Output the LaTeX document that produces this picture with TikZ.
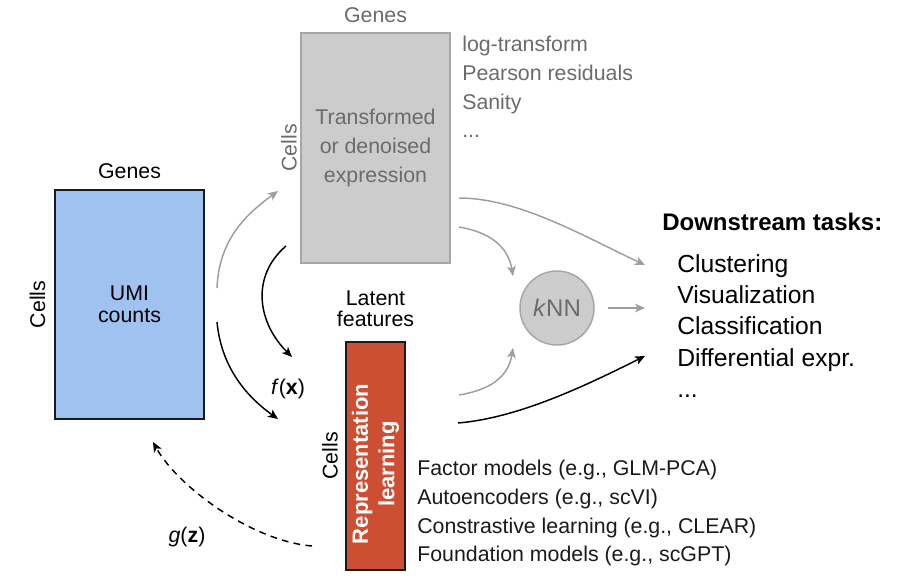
\documentclass[tikz,border=0pt]{standalone}
\usepackage{fontspec}
\setmainfont{Liberation Sans}
\usepackage{xcolor}
\usetikzlibrary{arrows.meta, positioning, calc}
\definecolor{scBlue}{HTML}{9FC2F0}
\definecolor{scRed}{HTML}{CC4E33}
\definecolor{scGray}{HTML}{CCCCCC}
\definecolor{scEdge}{HTML}{A6A6A6}
\definecolor{scText}{HTML}{6B6B6B}
\definecolor{scInk}{HTML}{1A1A1A}
\definecolor{scArrow}{HTML}{9E9E9E}

\begin{document}
\begin{tikzpicture}[x=0.75pt,y=-0.75pt,
  lbl/.style={inner sep=0pt, font=\fontsize{16}{21}\selectfont},
  matbox/.style={draw, line width=1.1pt, inner sep=0pt, outer sep=0pt, align=center},
  flow/.style={line width=1.1pt, -{Stealth[length=7.5pt,width=6.5pt,inset=2pt]}},
  faint/.style={flow, scArrow},
]
\useasboundingbox (0,0) rectangle (924,578);

% data matrices
\node[matbox, lbl, fill=scBlue, draw=scInk, minimum width=111.75pt, minimum height=171.75pt,
  font=\fontsize{16}{16.3}\selectfont] (umi) at (129.5,304.5) {UMI\\counts};
\node[lbl, above=8pt of umi] (umiGenes) {Genes};
\node[lbl, rotate=90, anchor=south] (umiCells) at ([xshift=-7pt]umi.west) {Cells};

\node[matbox, lbl, fill=scGray, draw=scEdge, text=scText, minimum width=111.75pt, minimum height=172.5pt,
  font=\fontsize{16}{21.4}\selectfont] (expr) at (375.5,148) {Transformed\\or denoised\\expression};
\node[lbl, text=scText, above=7.5pt of expr] (exprGenes) {Genes};
\node[lbl, text=scText, rotate=90, anchor=south] (exprCells) at ([xshift=-3pt]expr.west) {Cells};
\node[lbl, text=scText, align=left, anchor=north west, font=\fontsize{16}{21.5}\selectfont]
  (exprList) at ([shift={(12,3)}]expr.north east) {log-transform\\Pearson residuals\\Sanity\\...};

\node[matbox, fill=scRed, draw=scInk, minimum width=44.25pt, minimum height=171pt] (rep) at (375.5,456) {};
\node[rotate=90, text=white, inner sep=0pt, align=center, font=\bfseries\fontsize{16.5}{20}\selectfont]
  (repText) at ([shift={(0,8)}]rep.center) {Representation\\learning};
\node[lbl, align=center, font=\fontsize{16}{16}\selectfont, above=11pt of rep] (repTop) {Latent\\features};
\node[lbl, rotate=90, anchor=south] (repCells) at ([xshift=-6pt]rep.west) {Cells};
\node[lbl, text=scInk, align=left, anchor=north west, font=\fontsize{16}{21.5}\selectfont]
  (repList) at ([shift={(12,4)}]rep.east) {Factor models (e.g., GLM-PCA)\\Autoencoders (e.g., scVI)\\Constrastive learning (e.g., CLEAR)\\Foundation models (e.g., scGPT)};

\node[circle, draw=scEdge, fill=scGray, line width=1.1pt, minimum size=55.5pt, inner sep=0pt,
  text=scText, font=\fontsize{18}{20}\selectfont] (knn) at (557,308) {\textit{k}NN};

% downstream
\node[inner sep=0pt, anchor=west, font=\bfseries\fontsize{18}{20}\selectfont] (tasks) at (662,222) {Downstream tasks:};
\node[inner sep=0pt, anchor=north west, align=left, font=\fontsize{18.5}{23.5}\selectfont]
  (taskList) at (677,254) {Clustering\\Visualization\\Classification\\Differential expr.\\...};

% maps
\node[lbl] (fx) at (288,389) {\textit{f}(\textbf{x})};
\node[lbl] (gz) at (187,537) {\textit{g}(\textbf{z})};

\draw[faint] ([shift={(13,-16.5)}]umi.east) .. controls +(2,-50) and +(-30,22) .. ([shift={(-23,43)}]expr.west);
\draw[flow] ([shift={(-15,-17)}]expr.south west) .. controls +(-35,30) and +(-35,-35) .. ([shift={(-54,15)}]rep.north west);
\draw[flow] ([shift={(13,17.5)}]umi.east) .. controls +(4,42) and +(-35,-25) .. ([shift={(-68,-37)}]rep.west);
\draw[faint] ([shift={(9,50)}]expr.east) .. controls +(60,0) and +(-60,-28) .. ([shift={(-32,11)}]taskList.north west);
\draw[faint] ([shift={(9,79)}]expr.east) .. controls +(30,5) and +(-5,-30) .. ([shift={(-44,-32)}]knn.center);
\draw[faint] ([shift={(13,0)}]knn.east) -- ([shift={(-32,54)}]taskList.north west);
\draw[faint] ([shift={(54,-61)}]rep.east) .. controls +(30,-5) and +(-5,30) .. ([shift={(-44,40)}]knn.center);
\draw[flow] ([shift={(53,-33)}]rep.east) .. controls +(60,-5) and +(-60,30) .. ([shift={(-32,102)}]taskList.north west);
\draw[flow, dash pattern=on 5pt off 4pt] ([shift={(-34,90)}]rep.west) .. controls +(-60,-5) and +(25,45) .. ([shift={(23.5,23)}]umi.south);
\end{tikzpicture}
\end{document}
